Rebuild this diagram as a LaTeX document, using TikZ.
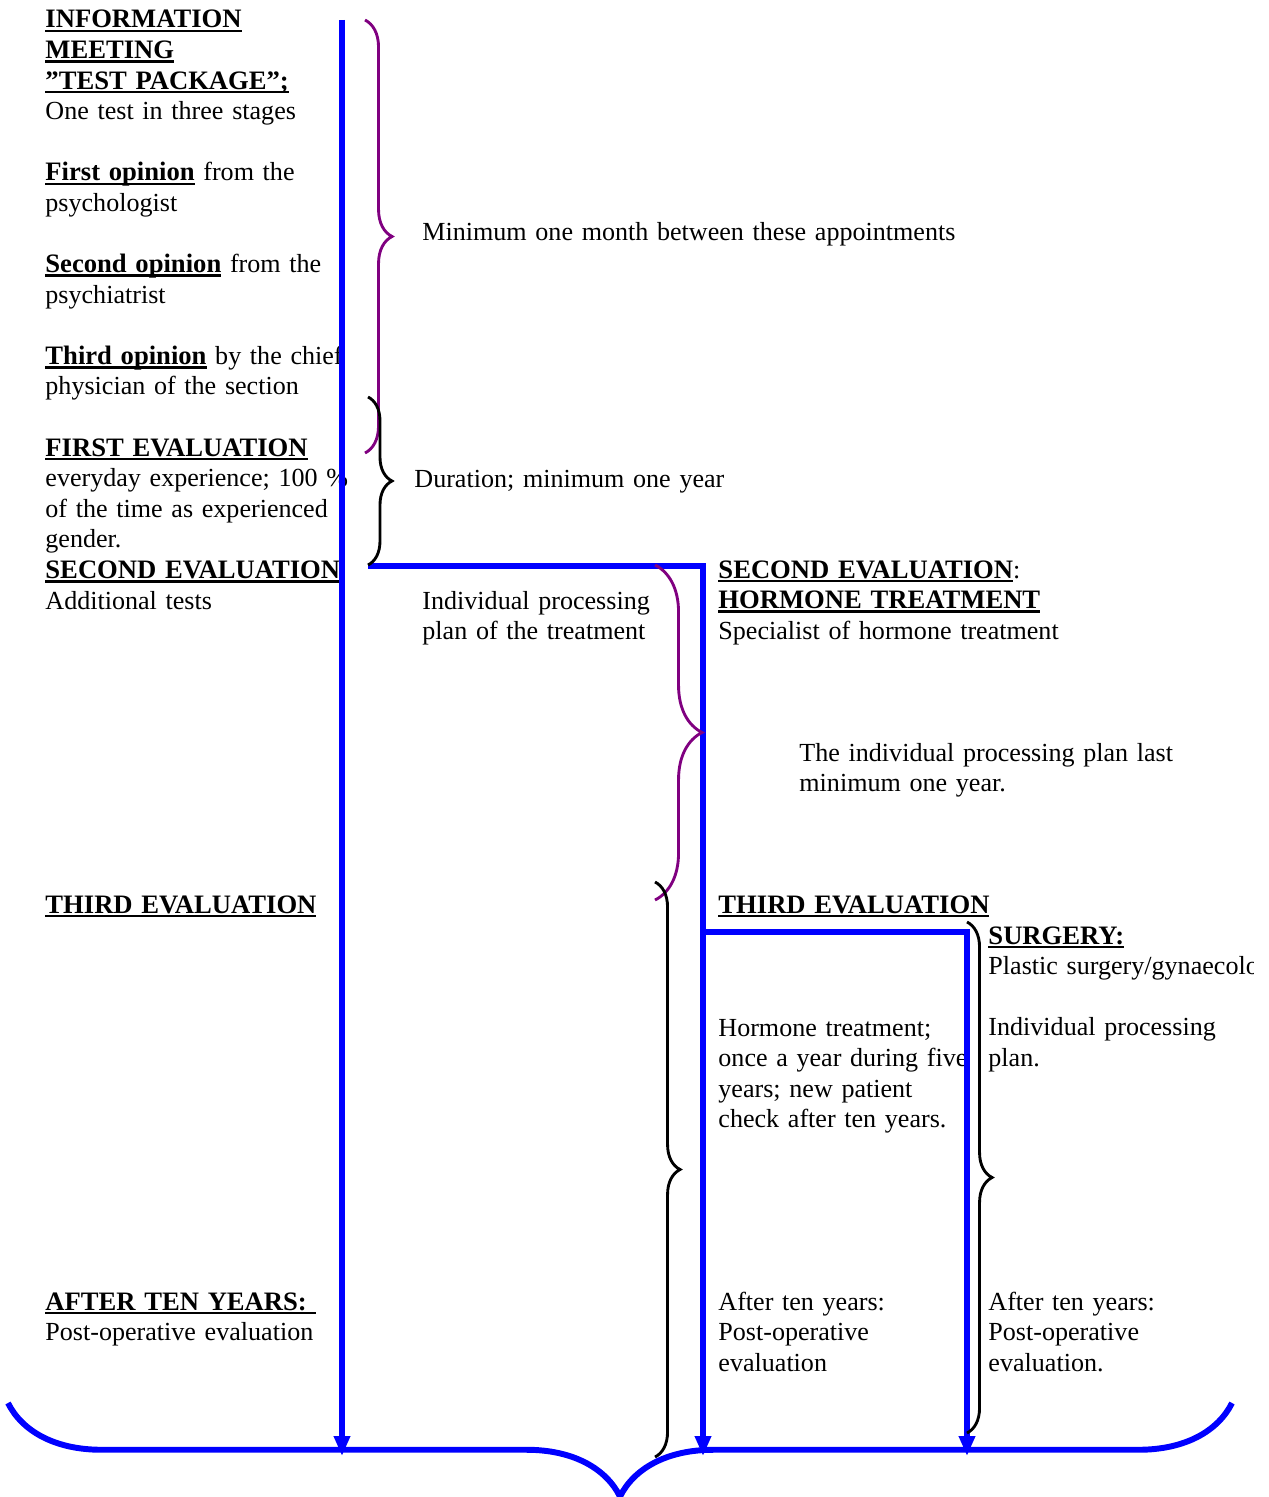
\documentclass[tikz,border=0pt]{standalone}
\usepackage{fontspec}
\setmainfont{Liberation Serif}
\usetikzlibrary{arrows.meta, decorations.pathreplacing}

\definecolor{bracepurple}{RGB}{128,0,128}

\newsavebox{\headbox}
\newcommand{\hd}[1]{\leavevmode\sbox{\headbox}{\fontsize{12.1}{13.9}\selectfont\bfseries #1}\rlap{\rule[-1.9pt]{\wd\headbox}{1.1pt}}\usebox{\headbox}}

\begin{document}
\begin{tikzpicture}[x=0.4545pt, y=-0.4545pt,
	txt/.style={anchor=base west, inner sep=0pt, align=left, text width=14cm,
		font=\fontsize{11.85}{13.9}\selectfont},
	flow/.style={blue, line width=2.7pt},
	flowarrow/.style={flow, -{Triangle[length=9pt, width=7pt]}},
	brc/.style={decorate, decoration={brace, amplitude=#1}, line width=1.3pt}]

	\useasboundingbox (0, 0) rectangle (1269, 1497);

	% Left column
	
	\node [txt] (tests) at (45, 28) {\hd{INFORMATION}\\ \hd{MEETING}\\ \hd{”TEST PACKAGE”;}\\
		One test in three stages\\[13.9pt]
		\hd{First opinion} from the\\ psychologist\\[13.9pt]
		\hd{Second opinion} from the\\ psychiatrist\\[13.9pt]
		\hd{Third opinion} by the chief\\ physician of the section\\[13.9pt]
		\hd{FIRST EVALUATION}\\ everyday experience; 100 \%\\ of the time as experienced\\ gender.\\
		\hd{SECOND EVALUATION}\\ Additional tests};
	\node [txt] (thirdA) at (45, 913) {\hd{THIRD EVALUATION}};
	\node [txt] (afterA) at (45, 1310) {\hd{AFTER TEN YEARS:\ }\\ Post-operative evaluation};
	
	% Notes beside the braces
	
	\node [txt] (month) at (422, 241) {Minimum one month between these appointments};
	\node [txt] (year) at (414, 487) {Duration; minimum one year};
	\node [txt] (plan) at (422, 609) {Individual processing\\ plan of the treatment};
	\node [txt] (lasts) at (799, 761) {The individual processing plan last\\ minimum one year.};
	
	% Hormone column
	
	\node [txt] (hormone) at (718, 578) {\hd{SECOND EVALUATION}:\\ \hd{HORMONE TREATMENT}\\
		Specialist of hormone treatment};
	\node [txt] (thirdB) at (718, 913) {\hd{THIRD EVALUATION}};
	\node [txt] (check) at (718, 1036) {Hormone treatment;\\ once a year during five\\
		years; new patient\\ check after ten years.};
	\node [txt] (afterB) at (718, 1310) {After ten years:\\ Post-operative\\ evaluation};
	
	% Surgery column
	
	\begin{scope}
		\clip (975, 900) rectangle (1253, 1100);
		\node [txt] (surgery) at (988, 944) {\hd{SURGERY:}\\ Plastic surgery/gynaecolo\\[13.9pt]
			Individual processing\\ plan.};
	\end{scope}
	\node [txt] (afterC) at (988, 1310) {After ten years:\\ Post-operative\\ evaluation.};
	
	% Time lines
	
	\coordinate (startA) at (342, 20);
	\coordinate (endA) at (342, 1456);
	\coordinate (startB) at (368, 566);
	\coordinate (turnB) at (703, 566);
	\coordinate (endB) at (703, 1456);
	\coordinate (startC) at (703, 932);
	\coordinate (turnC) at (967, 932);
	\coordinate (endC) at (967, 1456);
	
	\draw [flowarrow] (startA) -- (endA);
	\draw [flowarrow] (startB) -- (turnB) -- (endB);
	\draw [flowarrow] (startC) -- (turnC) -- (endC);
	
	% Braces
	
	\begin{scope}[bracepurple]
		\draw [brc=12.3pt] (365, 20) -- (365, 453);
		\draw [brc=21.4pt] (655, 565) -- (655, 900);
	\end{scope}
	
	\draw [brc=10.9pt] (368, 397) -- (368, 565);
	\draw [brc=11.4pt] (655, 882) -- (655, 1457);
	\draw [brc=11.4pt] (967, 922) -- (967, 1433);
	
	\draw [brc=42.5pt, flow] (1232, 1403) -- (8, 1403);

\end{tikzpicture}
\end{document}
